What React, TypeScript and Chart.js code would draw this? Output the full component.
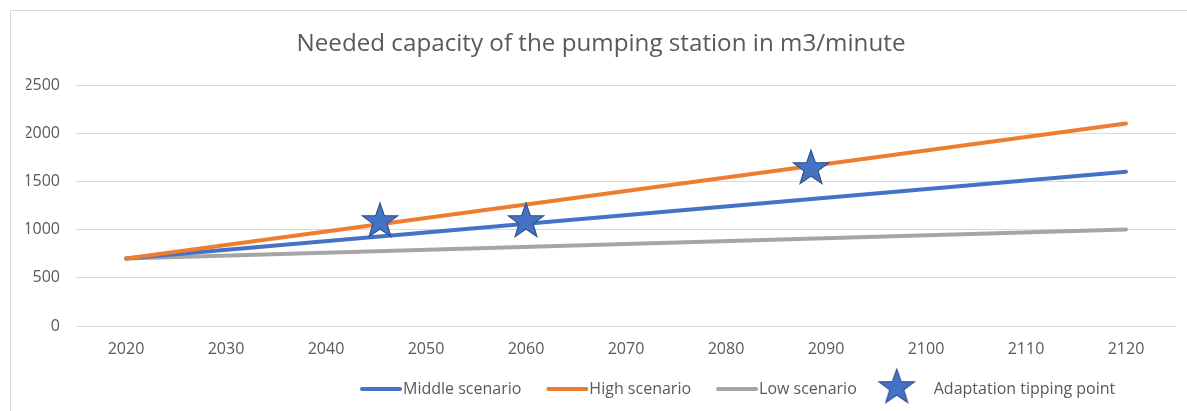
import React, { useEffect, useRef } from 'react';
import { Chart, registerables } from 'chart.js';

Chart.register(...registerables);

// ---- data ----
const scenarioYears = [2020, 2120];
const middleScenario = [700, 1600];
const highScenario = [700, 2100];
const lowScenario = [700, 1000];
const tippingYears = [2045.4, 2060, 2088.5];
const tippingValues = [1100, 1100, 1650];
const xTickValues = [2020, 2030, 2040, 2050, 2060, 2070, 2080, 2090, 2100, 2110, 2120];
const yTickValues = [0, 500, 1000, 1500, 2000, 2500];

const TITLE = 'Needed capacity of the pumping station in m3/minute';
const TEXT_COLOR = '#595959';
const FONT = "'Open Sans', sans-serif";

function makeStar(size: number): HTMLCanvasElement {
  const c = document.createElement('canvas');
  c.width = size;
  c.height = size;
  const ctx = c.getContext('2d')!;
  const cx = size / 2;
  const cy = size / 2 + size * 0.04;
  const outer = size / 2 - 1.5;
  const inner = outer * 0.4;
  ctx.beginPath();
  for (let i = 0; i < 10; i++) {
    const r = i % 2 === 0 ? outer : inner;
    const a = -Math.PI / 2 + (i * Math.PI) / 5;
    const x = cx + r * Math.cos(a);
    const y = cy + r * Math.sin(a);
    if (i === 0) ctx.moveTo(x, y);
    else ctx.lineTo(x, y);
  }
  ctx.closePath();
  ctx.fillStyle = '#4472C4';
  ctx.fill();
  ctx.lineWidth = 1.2;
  ctx.strokeStyle = '#2F528F';
  ctx.stroke();
  return c;
}

const pairs = (xs: number[], ys: number[]) => xs.map((x, i) => ({ x, y: ys[i] }));

const customLegend = {
  id: 'customLegend',
  afterDraw(chart: any) {
    const ctx = chart.ctx as CanvasRenderingContext2D;
    const ds = chart.data.datasets;
    const y = 389;
    let x = 360;
    ctx.save();
    ctx.font = `16px ${FONT}`;
    ctx.fillStyle = TEXT_COLOR;
    ctx.textBaseline = 'middle';
    ctx.textAlign = 'left';
    ds.forEach((d: any) => {
      if (d.pointStyle && typeof d.pointStyle !== 'string') {
        const img = d.pointStyle as HTMLCanvasElement;
        x -= 5;
        ctx.drawImage(img, x, y - 3 - img.height / 2);
        x += img.width + 17;
      } else {
        ctx.beginPath();
        ctx.lineWidth = 4;
        ctx.lineCap = 'round';
        ctx.strokeStyle = d.borderColor;
        ctx.moveTo(x + 2, y);
        ctx.lineTo(x + 40, y);
        ctx.stroke();
        x += 43;
      }
      ctx.fillStyle = TEXT_COLOR;
      ctx.fillText(d.label, x, y);
      x += ctx.measureText(d.label).width + 25;
    });
    ctx.restore();
  },
};

export default function App() {
  const ref = useRef<HTMLCanvasElement | null>(null);

  useEffect(() => {
    if (!ref.current) return;
    const star = makeStar(40);
    const chart = new Chart(ref.current, {
      type: 'line',
      data: {
        datasets: [
          {
            label: 'Middle scenario',
            data: pairs(scenarioYears, middleScenario),
            borderColor: '#4472C4',
            backgroundColor: '#4472C4',
            borderWidth: 4,
            pointRadius: 0,
            borderCapStyle: 'round',
            order: 2,
          },
          {
            label: 'High scenario',
            data: pairs(scenarioYears, highScenario),
            borderColor: '#ED7D31',
            backgroundColor: '#ED7D31',
            borderWidth: 4,
            pointRadius: 0,
            borderCapStyle: 'round',
            order: 1,
          },
          {
            label: 'Low scenario',
            data: pairs(scenarioYears, lowScenario),
            borderColor: '#A5A5A5',
            backgroundColor: '#A5A5A5',
            borderWidth: 4,
            pointRadius: 0,
            borderCapStyle: 'round',
            order: 3,
          },
          {
            label: 'Adaptation tipping point',
            data: pairs(tippingYears, tippingValues),
            showLine: false,
            pointStyle: star as any,
            pointRadius: 20,
            borderColor: '#2F528F',
            backgroundColor: '#4472C4',
            order: 0,
          },
        ] as any,
      },
      options: {
        animation: false,
        responsive: false,
        maintainAspectRatio: false,
        layout: { autoPadding: false, padding: { left: 26, right: 11, top: 0, bottom: 52 } } as any,
        font: { family: FONT } as any,
        plugins: {
          legend: { display: false },
          tooltip: { enabled: false },
          title: {
            display: true,
            text: TITLE,
            color: TEXT_COLOR,
            font: { family: FONT, size: 24.2, weight: 'normal' as any },
            padding: { top: 30, bottom: 26 },
          },
        },
        scales: {
          x: {
            type: 'linear',
            min: 2015,
            max: 2125,
            afterBuildTicks: (axis: any) => {
              axis.ticks = xTickValues.map((v) => ({ value: v }));
            },
            afterFit: (axis: any) => {
              axis.height = 33;
              axis.paddingLeft = 0;
              axis.paddingRight = 0;
            },
            grid: { display: false, drawTicks: false },
            border: { display: false },
            ticks: {
              color: TEXT_COLOR,
              font: { family: FONT, size: 16 },
              padding: 14,
              maxRotation: 0,
              autoSkip: false,
              callback: (v: any) => String(v),
            },
          },
          y: {
            type: 'linear',
            min: 0,
            max: 2500,
            afterBuildTicks: (axis: any) => {
              axis.ticks = yTickValues.map((v) => ({ value: v }));
            },
            afterFit: (axis: any) => {
              axis.width = 50;
              axis.paddingTop = 0;
              axis.paddingBottom = 0;
            },
            grid: { color: '#D9D9D9', lineWidth: 1, drawTicks: false },
            border: { display: false },
            ticks: {
              color: TEXT_COLOR,
              font: { family: FONT, size: 16 },
              padding: 16,
              callback: (v: any) => String(v),
            },
          },
        },
      },
      plugins: [customLegend],
    });
    return () => chart.destroy();
  }, []);

  return (
    <div style={{ position: 'fixed', left: 0, top: 0, width: 1187, height: 411, background: '#fff', overflow: 'hidden' }}>
      <div
        style={{
          position: 'absolute',
          left: 10,
          top: 10,
          right: -2,
          bottom: -2,
          borderLeft: '1px solid #D9D9D9',
          borderTop: '1px solid #D9D9D9',
        }}
      />
      <canvas
        ref={ref}
        width={1187}
        height={411}
        style={{ position: 'absolute', left: 0, top: 0, width: 1187, height: 411 }}
      />
    </div>
  );
}
